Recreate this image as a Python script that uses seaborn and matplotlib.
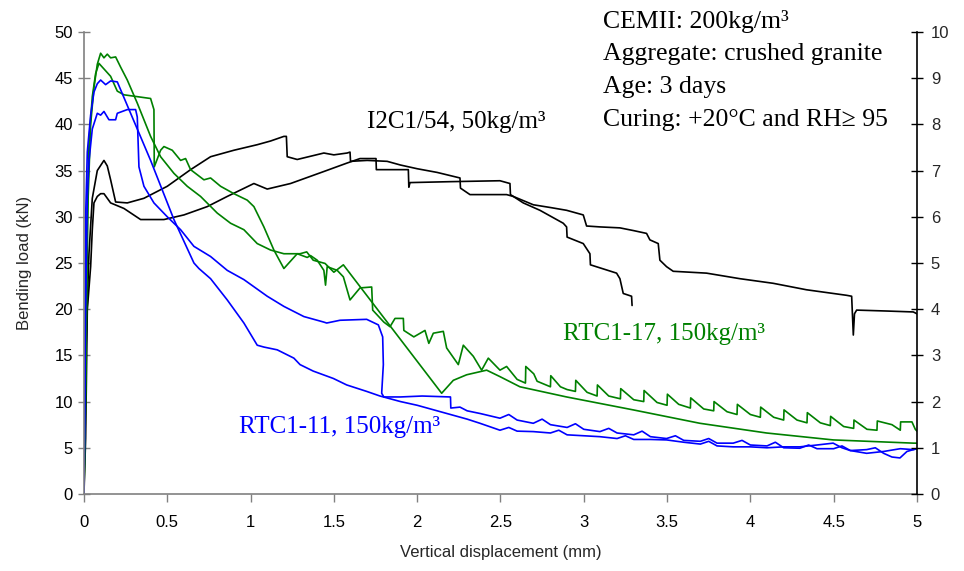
import matplotlib
matplotlib.use("Agg")
import matplotlib.pyplot as plt
from matplotlib.ticker import FuncFormatter
import seaborn as sns

# I2C1/54 specimen, curve that runs to 5 mm
blk_a_x = [0, 0.005, 0.015, 0.03, 0.05, 0.08, 0.12, 0.14, 0.16, 0.19, 0.26, 0.36, 0.50, 0.64,
           0.76, 0.90, 1.04, 1.12, 1.20, 1.215, 1.22, 1.28, 1.44, 1.50, 1.58, 1.597, 1.60, 1.70,
           1.82, 1.90, 2.00, 2.12, 2.257, 2.26, 2.317, 2.45, 2.537, 2.577, 2.697, 2.80, 2.897, 2.997,
           3.017, 3.10, 3.217, 3.30, 3.377, 3.397, 3.447, 3.457, 3.497, 3.537, 3.737, 3.937, 4.137,
           4.337, 4.578, 4.608, 4.618, 4.625, 4.638, 4.818, 4.978, 5.0]
blk_a_y = [0, 8, 18, 26, 32, 35, 36.1, 35.5, 34.0, 31.6, 31.5, 32.0, 33.3, 35.1,
           36.5, 37.2, 37.8, 38.2, 38.7, 38.7, 36.5, 36.2, 36.9, 36.7, 36.9, 37.0, 36.0, 36.1,
           36.0, 35.6, 35.2, 34.8, 34.2, 33.1, 32.4, 32.4, 32.4, 32.2, 31.3, 31.0, 30.7, 30.2,
           29.0, 28.9, 28.8, 28.5, 28.2, 27.5, 27.1, 25.3, 24.6, 24.1, 23.9, 23.3, 22.8,
           22.1, 21.5, 21.4, 17.2, 19.5, 19.9, 19.8, 19.7, 19.5]

# I2C1/54 specimen, curve that stops at 3.3 mm
blk_b_x = [0, 0.01, 0.02, 0.04, 0.05, 0.06, 0.08, 0.10, 0.12, 0.16, 0.24, 0.34, 0.48, 0.60, 0.74,
           0.86, 1.02, 1.10, 1.24, 1.44, 1.577, 1.657, 1.753, 1.755,
           1.947, 1.95, 1.957, 2.2, 2.497, 2.557, 2.56, 2.637, 2.737, 2.877, 2.897, 2.9, 2.997,
           3.037, 3.04, 3.197, 3.217, 3.237, 3.287, 3.29]
blk_b_y = [0, 6, 19.9, 24.6, 28.6, 31.5, 32.2, 32.5, 32.5, 31.5, 30.9, 29.7, 29.7, 30.2, 31.1,
           32.2, 33.6, 33.0, 33.6, 34.9, 35.8, 36.3, 36.3, 35.1,
           35.1, 33.2, 33.7, 33.8, 33.9, 33.6, 32.4, 31.5, 30.7, 29.3, 28.9, 27.8, 27.1,
           26.0, 24.8, 23.9, 23.3, 21.7, 21.4, 20.4]

# RTC1-17, curve with the long straight drop
grn_a_x = [0, 0.005, 0.015, 0.025, 0.04, 0.06, 0.08, 0.10, 0.12, 0.14, 0.16, 0.19, 0.22, 0.26, 0.32,
           0.36, 0.40, 0.46, 0.54, 0.62, 0.70, 0.80, 0.88, 0.96, 1.04, 1.12, 1.20,
           1.297, 1.337, 1.376, 1.447, 1.50, 1.557, 2.147, 2.217, 2.297, 2.417, 2.497,
           2.617, 2.897, 3.297, 3.697, 4.097, 4.497, 4.98, 5.0]
grn_a_y = [0, 6, 20, 32, 40, 44, 46.5, 47.7, 47.2, 47.6, 47.2, 47.3, 46.2, 44.8, 42.3,
           40.5, 38.7, 36.5, 34.7, 33.3, 32.2, 30.4, 29.3, 28.6, 27.1, 26.4, 26.0,
           26.0, 26.2, 25.3, 24.95, 24.0, 24.8, 10.9, 12.3, 12.9, 13.4, 12.7,
           11.6, 10.5, 9.1, 7.65, 6.6, 5.85, 5.5, 5.5]

# RTC1-17, curve with the shoulder and saw-tooth tail
grn_b_x = [0, 0.01, 0.02, 0.03, 0.05, 0.07, 0.09, 0.12, 0.16, 0.20, 0.24, 0.40, 0.42, 0.422,
           0.46, 0.48, 0.53, 0.58, 0.61, 0.64, 0.72, 0.76, 0.82, 0.90, 0.98, 1.02, 1.08,
           1.14, 1.20, 1.28, 1.34, 1.36, 1.40, 1.44, 1.45, 1.46, 1.52, 1.557, 1.597, 1.657,
           1.727, 1.733, 1.80, 1.837, 1.867, 1.917, 1.92, 1.98, 2.047, 2.07, 2.097, 2.157, 2.177,
           2.247, 2.277, 2.337, 2.387, 2.427, 2.497, 2.537, 2.60, 2.65, 2.652, 2.70, 2.72, 2.80,
           2.802, 2.86, 2.90, 2.95, 2.952, 3.02, 3.08, 3.082, 3.15, 3.22, 3.222, 3.30, 3.36, 3.362,
           3.44, 3.50, 3.502, 3.57, 3.64, 3.642, 3.72, 3.78, 3.782, 3.86, 3.92, 3.922, 4.00, 4.06,
           4.062, 4.14, 4.20, 4.202, 4.28, 4.34, 4.342, 4.42, 4.48, 4.482, 4.56, 4.62, 4.622, 4.70,
           4.76, 4.762, 4.85, 4.90, 4.902, 4.97, 4.99, 5.0]
grn_b_y = [0, 10, 30, 38, 43, 45.5, 46.6, 46.0, 45.2, 43.6, 43.2, 42.8, 41.6, 35.4,
           37.2, 37.6, 37.2, 36.1, 36.3, 35.1, 34.0, 34.2, 33.3, 32.5, 31.8, 31.1, 28.9,
           26.4, 24.4, 26.0, 25.6, 25.8, 25.3, 24.2, 22.6, 24.6, 24.2, 23.5, 21.0, 22.3,
           22.4, 19.9, 18.6, 18.1, 19.0, 19.0, 17.7, 17.0, 17.7, 16.3, 17.4, 17.6, 15.8,
           14.0, 16.1, 14.9, 13.4, 14.7, 13.4, 13.8, 12.4, 12.0, 13.8, 13.0, 12.2, 11.6,
           12.8, 11.6, 11.3, 11.1, 12.3, 11.0, 10.6, 11.8, 10.6, 10.3, 11.4, 10.2, 10.0, 11.2,
           9.9, 9.6, 10.8, 9.7, 9.3, 10.4, 9.2, 9.0, 10.0, 8.9, 8.6, 9.7, 8.6, 8.3,
           9.4, 8.3, 8.0, 9.1, 8.0, 7.7, 8.8, 7.7, 7.4, 8.4, 7.3, 7.1, 8.0, 7.0,
           6.9, 7.9, 7.5, 6.9, 7.8, 7.8, 7.0, 6.8]

# RTC1-11, curve with the higher peak
blu_a_x = [0, 0.005, 0.01, 0.02, 0.04, 0.06, 0.08, 0.10, 0.13, 0.16, 0.20, 0.40, 0.54, 0.66,
           0.69, 0.76, 0.86, 0.96, 1.04, 1.08, 1.16, 1.26, 1.297, 1.376, 1.497, 1.577, 1.697, 1.777,
           1.90, 2.0, 2.1, 2.2, 2.3, 2.377, 2.497, 2.55, 2.6, 2.697, 2.8, 2.85, 2.9, 3.0, 3.097,
           3.2, 3.25, 3.3, 3.4, 3.497, 3.6, 3.7, 3.75, 3.8, 3.897, 4.0, 4.1, 4.2, 4.297, 4.4,
           4.497, 4.55, 4.6, 4.698, 4.8, 4.9, 4.978, 5.0]
blu_a_y = [0, 10, 30, 37, 41, 43.5, 44.4, 44.8, 44.3, 44.7, 44.6, 36.1, 29.7, 25.0,
           24.4, 23.3, 21.0, 18.5, 16.1, 15.9, 15.6, 14.7, 14.0, 13.3, 12.5, 11.8, 11.1, 10.6,
           10.0, 9.6, 9.1, 8.6, 8.1, 7.65, 6.9, 7.2, 6.8, 6.75, 6.6, 6.9, 6.4, 6.3, 6.2,
           6.0, 6.3, 5.9, 5.9, 5.85, 5.6, 5.4, 5.7, 5.2, 5.1, 5.1, 5.0, 5.1, 5.1, 5.3,
           5.5, 5.0, 4.7, 4.4, 4.6, 4.9, 4.8, 4.9]

# RTC1-11, curve with the plateau and vertical drop
blu_b_x = [0, 0.01, 0.02, 0.03, 0.05, 0.08, 0.10, 0.12, 0.15, 0.19, 0.20, 0.26, 0.31, 0.32, 0.33,
           0.36, 0.42, 0.50, 0.58, 0.66, 0.76, 0.86, 0.96, 1.10, 1.20, 1.32, 1.44,
           1.457, 1.537, 1.697, 1.767, 1.793, 1.797, 1.787, 1.80, 1.90, 2.03, 2.20, 2.202, 2.257,
           2.30, 2.38, 2.45, 2.497, 2.55, 2.60, 2.697, 2.75, 2.80, 2.90, 2.95, 3.0, 3.097, 3.15,
           3.2, 3.3, 3.35, 3.4, 3.497, 3.55, 3.6, 3.7, 3.75, 3.8, 3.897, 3.95, 4.0, 4.1, 4.15,
           4.2, 4.297, 4.35, 4.4, 4.5, 4.55, 4.6, 4.698, 4.75, 4.8, 4.85, 4.898, 4.94, 4.978, 5.0]
blu_b_y = [0, 20, 32, 36, 39.5, 41.2, 41.0, 41.4, 40.5, 40.5, 41.2, 41.6, 41.6, 40.8, 35.4,
           33.3, 31.5, 30.0, 28.6, 26.8, 25.7, 24.2, 23.2, 21.4, 20.3, 19.2, 18.6,
           18.5, 18.8, 18.9, 18.3, 17.0, 14.0, 10.9, 10.5, 10.5, 10.6, 10.5, 9.3, 9.4,
           9.0, 8.7, 8.4, 8.2, 8.6, 8.0, 7.65, 8.1, 7.5, 7.2, 7.6, 7.0, 6.75, 7.1,
           6.6, 6.4, 6.8, 6.2, 6.0, 6.3, 5.8, 5.7, 6.0, 5.5, 5.5, 5.8, 5.3, 5.2, 5.6,
           5.0, 4.95, 5.3, 4.9, 4.9, 5.2, 4.7, 4.8, 5.0, 4.4, 4.0, 3.9, 4.6, 4.8, 4.9]

x_ticks = [0, 0.5, 1, 1.5, 2, 2.5, 3, 3.5, 4, 4.5, 5]
y_ticks_left = [0, 5, 10, 15, 20, 25, 30, 35, 40, 45, 50]
y_ticks_right = [0, 1, 2, 3, 4, 5, 6, 7, 8, 9, 10]

info_lines = ["CEMII: 200kg/m³", "Aggregate: crushed granite", "Age: 3 days",
              "Curing: +20°C and RH≥ 95"]

BLACK = "#000000"
GREEN = "#008000"
BLUE = "#0000FF"
GRAY = "#808080"

sns.set_theme(style="white")
plt.rcParams["font.family"] = ["Liberation Sans", "DejaVu Sans"]
SERIF = ["Liberation Serif", "DejaVu Serif"]

fig = plt.figure(figsize=(9.64, 5.71), dpi=100)
ax = fig.add_axes([0.0871, 0.1349, 0.8641, 0.8091])

curves = [(blk_a_x, blk_a_y, BLACK), (blk_b_x, blk_b_y, BLACK),
          (grn_a_x, grn_a_y, GREEN), (grn_b_x, grn_b_y, GREEN),
          (blu_a_x, blu_a_y, BLUE), (blu_b_x, blu_b_y, BLUE)]
for xs, ys, col in curves:
    sns.lineplot(x=xs, y=ys, color=col, lw=1.2, sort=False, estimator=None, ax=ax)

ax.set_xlim(0, 5)
ax.set_ylim(0, 50)
ax.set_xticks(x_ticks)
ax.set_yticks(y_ticks_left)
ax.xaxis.set_major_formatter(FuncFormatter(lambda v, p: f"{v:g}"))
ax.tick_params(axis="y", direction="inout", length=8, width=1, color=GRAY, pad=4,
               labelsize=12, labelcolor=BLACK, left=True)
ax.tick_params(axis="x", direction="out", length=6, width=1, color=GRAY, pad=9,
               labelsize=12, labelcolor=BLACK, bottom=True)
for s in ["top", "right"]:
    ax.spines[s].set_visible(False)
for s in ["left", "bottom"]:
    ax.spines[s].set_color(GRAY)
    ax.spines[s].set_linewidth(1.2)
ax.set_xlabel("Vertical displacement (mm)", fontsize=12, labelpad=11)
ax.set_ylabel("Bending load (kN)", fontsize=12, labelpad=16)

ax2 = ax.twinx()
ax2.set_ylim(0, 10)
ax2.set_yticks(y_ticks_right)
ax2.tick_params(axis="y", direction="inout", length=8, width=1, color=BLACK, pad=6,
                labelsize=12, right=True)
for s in ["top", "left", "bottom"]:
    ax2.spines[s].set_visible(False)
ax2.spines["right"].set_color(BLACK)
ax2.spines["right"].set_linewidth(1.2)

info_y = [50.4, 47.0, 43.4, 39.8]
for txt, yy in zip(info_lines, info_y):
    ax.text(3.117, yy, txt, family=SERIF, fontsize=18.5, color=BLACK, va="baseline",
            ha="left", clip_on=False)

ax.text(1.697, 39.6, "I2C1/54, 50kg/m³", family=SERIF, fontsize=18, color=BLACK, va="baseline")
ax.text(2.877, 16.7, "RTC1-17, 150kg/m³", family=SERIF, fontsize=18, color=GREEN, va="baseline")
ax.text(0.932, 6.57, "RTC1-11, 150kg/m³", family=SERIF, fontsize=18, color=BLUE, va="baseline")

fig.savefig("out.png", dpi=100)
